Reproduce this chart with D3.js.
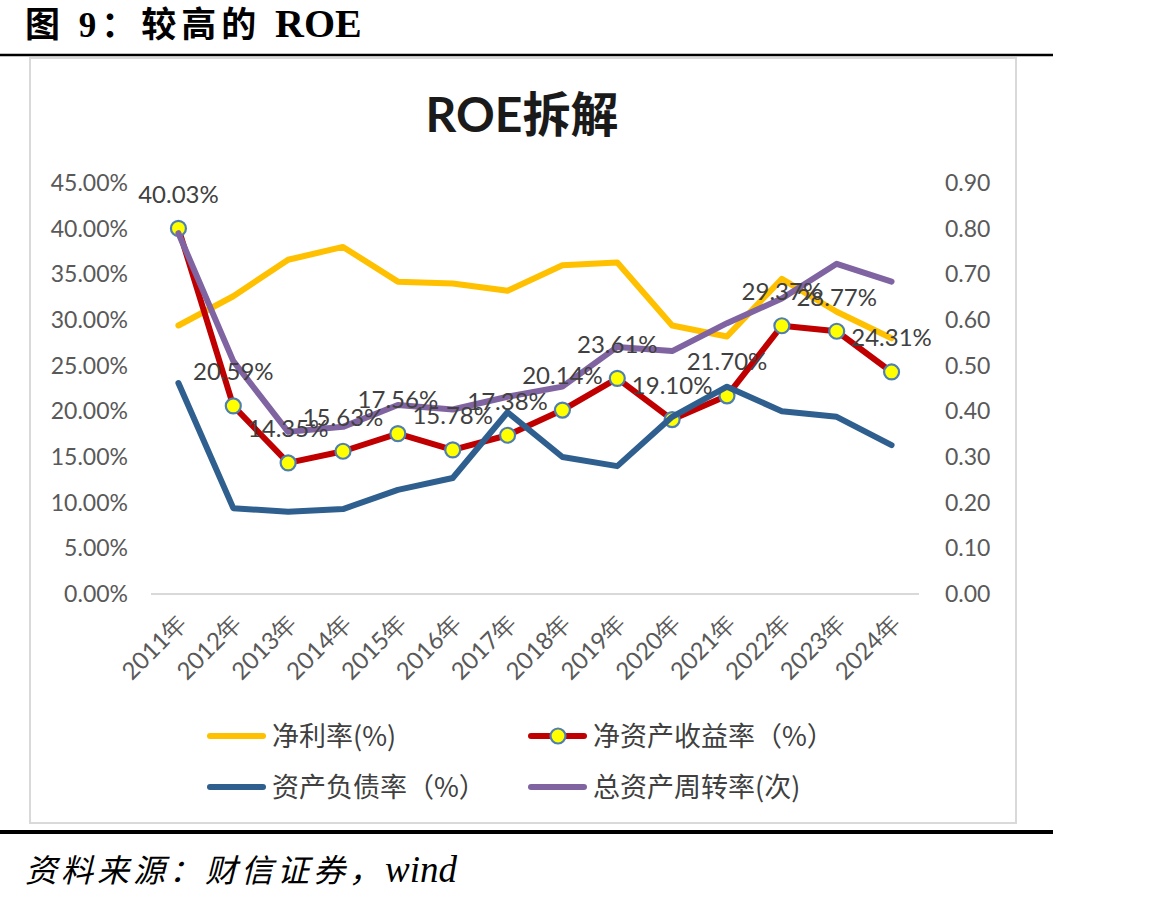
<!DOCTYPE html>
<html>
<head>
<meta charset="utf-8">
<script src="https://cdn.jsdelivr.net/npm/d3@7"></script>
<style>
  body { margin: 0; background: #fff; }
  svg { display: block; }
</style>
</head>
<body>
<div id="chart"></div>
<script>
// values
const years = ["2011年", "2012年", "2013年", "2014年", "2015年", "2016年", "2017年",
               "2018年", "2019年", "2020年", "2021年", "2022年", "2023年", "2024年"];
const netMargin = [29.4, 32.6, 36.6, 38.0, 34.2, 34.0, 33.2, 36.0, 36.3, 29.4, 28.2, 34.5, 30.9, 28.0];
const roe = [40.03, 20.59, 14.35, 15.63, 17.56, 15.78, 17.38, 20.14, 23.61, 19.10, 21.70, 29.37, 28.77, 24.31];
const debtRatio = [23.1, 9.4, 9.0, 9.3, 11.4, 12.7, 19.9, 15.0, 14.0, 19.4, 22.7, 20.0, 19.4, 16.3];
const turnover = [0.79, 0.51, 0.355, 0.366, 0.414, 0.404, 0.432, 0.454, 0.541, 0.532, 0.593, 0.647, 0.723, 0.684];
const leftTicks = [0, 5, 10, 15, 20, 25, 30, 35, 40, 45];
const rightTicks = [0, 0.1, 0.2, 0.3, 0.4, 0.5, 0.6, 0.7, 0.8, 0.9];
const legendNames = ["净利率(%)", "净资产收益率（%）", "资产负债率（%）", "总资产周转率(次)"];

let width = 1157,
    height = 902,
    plot = ({ left: 151, right: 919, top: 183, bottom: 594 });

const svg = d3.select("#chart")
  .append("svg")
  .attr("width", width)
  .attr("height", height)
  .attr("viewBox", [0, 0, width, height]);

svg.append("rect").attr("width", width).attr("height", height).attr("fill", "#fff");

// page header / footer
let head = svg.append("text")
  .attr("x", 25).attr("y", 37)
  .attr("font-family", "'Liberation Serif', 'Noto Sans CJK SC'")
  .attr("font-weight", "bold")
  .attr("font-size", 35);
head.append("tspan").attr("letter-spacing", 5).text("图 9：较高的 ");
head.append("tspan").attr("font-size", 40).text("ROE");

svg.append("line")
  .attr("x1", 0).attr("x2", 1053).attr("y1", 55).attr("y2", 55)
  .attr("stroke", "#000").attr("stroke-width", 2.5);

svg.append("rect")
  .attr("x", 30).attr("y", 58).attr("width", 986).attr("height", 765)
  .attr("fill", "none").attr("stroke", "#d9d9d9").attr("stroke-width", 2);

svg.append("line")
  .attr("x1", 0).attr("x2", 1053).attr("y1", 832).attr("y2", 832)
  .attr("stroke", "#000").attr("stroke-width", 4);

let foot = svg.append("text")
  .attr("x", 25).attr("y", 882)
  .attr("font-family", "'Liberation Serif', 'Noto Sans CJK SC'")
  .attr("font-style", "italic")
  .attr("font-size", 32);
foot.append("tspan").attr("letter-spacing", 4).text("资料来源：财信证券，");
foot.append("tspan").attr("font-size", 37).text("wind");

// chart title
svg.append("text")
  .attr("x", 522).attr("y", 132)
  .attr("text-anchor", "middle")
  .attr("font-family", "Lato, 'Noto Sans CJK SC'")
  .attr("font-weight", "bold")
  .attr("font-size", 48)
  .attr("fill", "#1a1a1a")
  .text("ROE拆解");

// scales
let x = d3.scaleBand()
  .domain(years)
  .range([plot.left, plot.right])
  .padding(0);
let cx = d => x(d) + x.bandwidth() / 2;

let y = d3.scaleLinear().domain([0, 45]).range([plot.bottom, plot.top]);
let y2 = d3.scaleLinear().domain([0, 0.9]).range([plot.bottom, plot.top]);

// axes
let axisFont = "Lato, 'Liberation Sans'";

let gl = svg.append("g")
  .attr("transform", `translate(${plot.left},0)`)
  .call(d3.axisLeft(y).tickValues(leftTicks).tickSize(0).tickPadding(23)
    .tickFormat(d => d.toFixed(2) + "%"));
let gr = svg.append("g")
  .attr("transform", `translate(${plot.right},0)`)
  .call(d3.axisRight(y2).tickValues(rightTicks).tickSize(0).tickPadding(26)
    .tickFormat(d => d.toFixed(2)));
for (let g of [gl, gr]) {
  g.select(".domain").remove();
  g.selectAll("text")
    .attr("font-family", axisFont)
    .attr("font-size", 23)
    .attr("fill", "#595959");
}

svg.append("line")
  .attr("x1", plot.left).attr("x2", plot.right)
  .attr("y1", y(0)).attr("y2", y(0))
  .attr("stroke", "#d9d9d9").attr("stroke-width", 2);

let gx = svg.append("g")
  .attr("transform", `translate(0,${plot.bottom})`)
  .call(d3.axisBottom(x).tickSize(0).tickPadding(0));
gx.select(".domain").remove();
gx.selectAll("text")
  .attr("font-family", axisFont)
  .attr("font-size", 24)
  .attr("fill", "#595959")
  .attr("text-anchor", "end")
  .attr("dy", "0.35em")
  .attr("transform", "translate(4,25) rotate(-45)");

// series
let idx = d3.range(years.length);
let linePrimary = vals => d3.line().x(i => cx(years[i])).y(i => y(vals[i]))(idx);
let lineSecondary = vals => d3.line().x(i => cx(years[i])).y(i => y2(vals[i]))(idx);

const colors = { margin: "#ffc000", roe: "#c00000", debt: "#2e5f8f", turn: "#8064a2" };

function drawLine(d, color) {
  svg.append("path")
    .attr("d", d)
    .attr("fill", "none")
    .attr("stroke", color)
    .attr("stroke-width", 6)
    .attr("stroke-linejoin", "round")
    .attr("stroke-linecap", "round");
}

drawLine(linePrimary(netMargin), colors.margin);
drawLine(linePrimary(roe), colors.roe);
svg.append("g")
  .selectAll("circle")
  .data(idx)
  .join("circle")
  .attr("cx", i => cx(years[i]))
  .attr("cy", i => y(roe[i]))
  .attr("r", 7.5)
  .attr("fill", "#ffff00")
  .attr("stroke", "#4f7fb0")
  .attr("stroke-width", 2.2);
drawLine(linePrimary(debtRatio), colors.debt);
drawLine(lineSecondary(turnover), colors.turn);

// ROE labels
svg.append("g")
  .selectAll("text")
  .data(idx)
  .join("text")
  .attr("x", i => cx(years[i]))
  .attr("y", i => y(roe[i]) - 34)
  .attr("dy", "0.35em")
  .attr("text-anchor", "middle")
  .attr("font-family", axisFont)
  .attr("font-size", 24)
  .attr("fill", "#404040")
  .text(i => roe[i].toFixed(2) + "%");

// legend
let legend = [
  { name: legendNames[0], color: colors.margin, x: 207, y: 736, marker: false },
  { name: legendNames[1], color: colors.roe, x: 528, y: 736, marker: true },
  { name: legendNames[2], color: colors.debt, x: 207, y: 787, marker: false },
  { name: legendNames[3], color: colors.turn, x: 528, y: 787, marker: false }
];
for (let l of legend) {
  let g = svg.append("g");
  g.append("line")
    .attr("x1", l.x + 3).attr("x2", l.x + 56)
    .attr("y1", l.y).attr("y2", l.y)
    .attr("stroke", l.color).attr("stroke-width", 6)
    .attr("stroke-linecap", "round");
  if (l.marker) {
    g.append("circle")
      .attr("cx", l.x + 30).attr("cy", l.y).attr("r", 7.5)
      .attr("fill", "#ffff00").attr("stroke", "#4f7fb0").attr("stroke-width", 2.2);
  }
  g.append("text")
    .attr("x", l.x + 65).attr("y", l.y)
    .attr("dy", "0.36em")
    .attr("font-family", "'Noto Sans CJK SC'")
    .attr("font-size", 27)
    .attr("fill", "#404040")
    .text(l.name);
}
</script>
</body>
</html>
